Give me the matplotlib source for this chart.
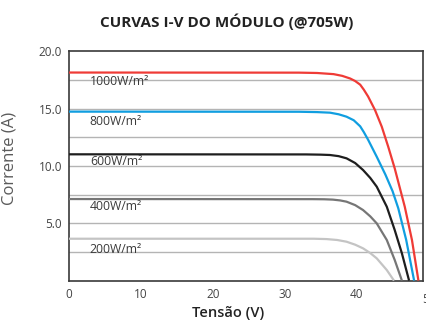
import matplotlib
matplotlib.use("Agg")
import matplotlib.pyplot as plt

title = "CURVAS I-V DO MÓDULO (@705W)"
xlabel = "Tensão (V)"
ylabel = "Corrente (A)"
irradiance_labels = ["1000W/m²", "800W/m²", "600W/m²", "400W/m²", "200W/m²"]
label_y = [17.4, 13.9, 10.4, 6.45, 2.73]

v_1000 = [0, 32.0, 34.5, 36.8, 38.0, 39.1, 39.8, 40.5, 41.0, 41.6, 42.56, 43.5, 44.4, 45.3, 46.7, 47.7, 48.6]
i_1000 = [18.14, 18.13, 18.1, 18.0, 17.85, 17.62, 17.4, 17.08, 16.65, 16.05, 14.87, 13.42, 11.67, 9.79, 6.44, 3.54, 0]
v_800 = [0, 32.0, 34.5, 36.3, 37.5, 38.6, 39.6, 40.5, 41.0, 41.6, 42.8, 44.0, 45.0, 45.8, 46.9, 48.0]
i_800 = [14.73, 14.72, 14.69, 14.64, 14.5, 14.29, 13.98, 13.45, 12.95, 12.28, 10.8, 9.25, 7.8, 6.3, 3.54, 0]
v_600 = [0, 33.0, 35.0, 36.3, 37.5, 38.6, 39.8, 40.9, 41.9, 42.8, 44.2, 45.3, 46.3, 47.3]
i_600 = [11.01, 11.0, 10.98, 10.95, 10.85, 10.66, 10.25, 9.64, 8.95, 8.19, 6.44, 4.41, 2.38, 0]
v_400 = [0, 34.0, 35.5, 36.7, 37.7, 38.6, 39.8, 40.9, 41.9, 42.8, 44.2, 45.3, 46.3]
i_400 = [7.11, 7.1, 7.09, 7.06, 6.99, 6.88, 6.58, 6.15, 5.6, 4.99, 3.54, 1.8, 0]
v_200 = [0, 34.0, 35.8, 37.3, 38.6, 39.8, 40.9, 41.9, 42.8, 44.2, 45.2]
i_200 = [3.65, 3.65, 3.62, 3.54, 3.39, 3.13, 2.81, 2.4, 1.94, 0.92, 0]

x_ticks = [0, 10, 20, 30, 40]
y_ticks = [5.0, 10.0, 15.0, 20.0]
grid_y = [2.5, 5.0, 7.5, 10.0, 12.5, 15.0, 17.5]

series = [(v_1000, i_1000, "#ef3b36"), (v_800, i_800, "#109ee0"),
          (v_600, i_600, "#1e1e1e"), (v_400, i_400, "#767676"),
          (v_200, i_200, "#c4c4c4")]

plt.rcParams['font.family'] = ['Open Sans', 'DejaVu Sans']

fig = plt.figure(figsize=(4.26, 3.22), dpi=100)
ax = fig.add_axes([0.162, 0.1286, 0.8317, 0.7124])

for g in grid_y:
    ax.axhline(g, color="#b4b4b4", lw=1.0, zorder=1)

for v, i, c in series:
    ax.plot(v, i, color=c, lw=1.6, zorder=3, solid_capstyle="butt", solid_joinstyle="round")

for lab, ly in zip(irradiance_labels, label_y):
    ax.text(2.9, ly, lab, fontsize=8.8, color="#3a3a3a", va="center", ha="left", zorder=4)

ax.set_xlim(0, 49.28)
ax.set_ylim(0, 20)
ax.set_xticks(x_ticks)
ax.set_xticklabels([str(t) for t in x_ticks])
ax.set_yticks(y_ticks)
ax.set_yticklabels([f"{t:.1f}" for t in y_ticks])
ax.text(50, -0.055, "50", transform=ax.get_xaxis_transform(), ha="center", va="top",
        fontsize=8.5, color="#444444", clip_on=False)
ax.tick_params(length=0, labelsize=8.5, colors="#444444", pad=5)
for s in ax.spines.values():
    s.set_color("#3a3a3a")
    s.set_linewidth(1.2)

ax.set_xlabel(xlabel, fontsize=10.5, color="#222222", fontweight="semibold")
ax.xaxis.set_label_coords(0.449, -0.11)
ax.set_ylabel(ylabel, fontsize=12, color="#5a5a5a", fontweight="normal")
ax.yaxis.set_label_coords(-0.144, 0.534)
fig.text(0.533, 0.934, title, ha="center", va="center", fontsize=11,
         fontweight="bold", color="#222222")

fig.savefig("out.png", dpi=100)
